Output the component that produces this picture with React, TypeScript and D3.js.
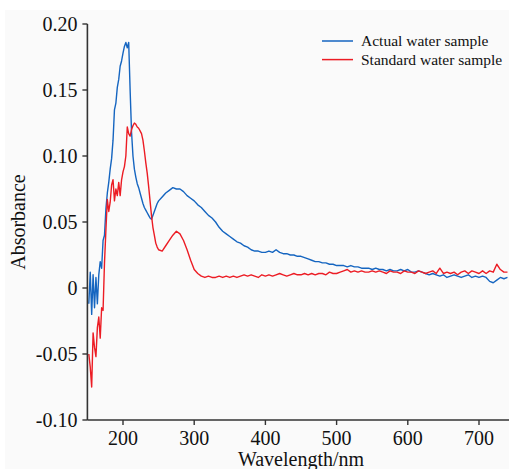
import React from "react";
import * as d3 from "d3";

const wavelengths = [
  152, 154, 156, 158, 160, 162, 164, 166, 168, 170, 172, 174, 176, 178, 180, 182, 184, 186, 188, 190,
  192, 194, 196, 198, 200, 202, 204, 206, 208, 210, 212, 214, 216, 218, 220, 222, 224, 226, 228, 230,
  232, 234, 236, 238, 240, 242, 244, 246, 248, 250,
  255, 260, 265, 270, 275, 280, 285, 290, 295, 300, 305, 310, 315, 320, 325, 330, 335, 340, 345, 350,
  355, 360, 365, 370, 375, 380, 385, 390, 395, 400, 405, 410, 415, 420, 425, 430, 435, 440, 445, 450,
  455, 460, 465, 470, 475, 480, 485, 490, 495, 500, 505, 510, 515, 520, 525, 530, 535, 540, 545, 550,
  555, 560, 565, 570, 575, 580, 585, 590, 595, 600, 605, 610, 615, 620, 625, 630, 635, 640, 645, 650,
  655, 660, 665, 670, 675, 680, 685, 690, 695, 700, 705, 710, 715, 720, 725, 730, 735, 740,
];

const actualWater = [
  -0.012, 0.012, -0.02, 0.01, -0.015, 0.008, -0.012, 0.01, 0.02, 0.015, 0.036, 0.04, 0.06, 0.072, 0.08, 0.09, 0.098, 0.112, 0.135, 0.14,
  0.152, 0.158, 0.168, 0.172, 0.178, 0.183, 0.186, 0.182, 0.186, 0.15, 0.118, 0.1, 0.09, 0.084, 0.079, 0.076, 0.072, 0.068, 0.064, 0.061,
  0.059, 0.057, 0.055, 0.053, 0.052, 0.055, 0.058, 0.061, 0.064, 0.066,
  0.069, 0.072, 0.074, 0.076, 0.075, 0.075, 0.073, 0.07, 0.068, 0.066, 0.063, 0.061, 0.058, 0.055, 0.053, 0.05, 0.046, 0.043, 0.041, 0.039,
  0.037, 0.035, 0.034, 0.032, 0.031, 0.029, 0.028, 0.028, 0.027, 0.027, 0.028, 0.027, 0.029, 0.027, 0.026, 0.026, 0.025, 0.025, 0.024, 0.024,
  0.023, 0.022, 0.021, 0.02, 0.02, 0.019, 0.019, 0.018, 0.018, 0.017, 0.017, 0.017, 0.016, 0.017, 0.016, 0.016, 0.015, 0.015, 0.015, 0.014,
  0.015, 0.014, 0.014, 0.013, 0.014, 0.013, 0.013, 0.014, 0.013, 0.014, 0.012, 0.012, 0.013, 0.012, 0.011, 0.01, 0.011, 0.01, 0.009, 0.01,
  0.008, 0.009, 0.01, 0.009, 0.008, 0.009, 0.01, 0.008, 0.009, 0.008, 0.009, 0.008, 0.005, 0.004, 0.006, 0.008, 0.007, 0.008,
];

const standardWater = [
  -0.05, -0.06, -0.075, -0.034, -0.045, -0.052, -0.03, -0.022, -0.038, -0.015, -0.017, 0.019, 0.044, 0.067, 0.058, 0.065, 0.078, 0.082, 0.066, 0.075,
  0.07, 0.08, 0.07, 0.082, 0.088, 0.092, 0.1, 0.122, 0.117, 0.115, 0.12, 0.123, 0.125, 0.124, 0.122, 0.121, 0.119, 0.117, 0.112, 0.104,
  0.095, 0.087, 0.077, 0.066, 0.055, 0.046, 0.04, 0.034, 0.031, 0.029,
  0.028, 0.032, 0.036, 0.04, 0.043, 0.041, 0.036, 0.029, 0.021, 0.014, 0.011, 0.009, 0.008, 0.009, 0.008, 0.008, 0.009, 0.008, 0.009, 0.008,
  0.009, 0.008, 0.009, 0.01, 0.009, 0.01, 0.009, 0.008, 0.01, 0.009, 0.01, 0.009, 0.01, 0.011, 0.01, 0.009, 0.01, 0.011, 0.01, 0.01,
  0.011, 0.01, 0.011, 0.01, 0.011, 0.011, 0.01, 0.012, 0.011, 0.011, 0.012, 0.013, 0.014, 0.012, 0.013, 0.012, 0.013, 0.012, 0.012, 0.013,
  0.012, 0.013, 0.012, 0.011, 0.013, 0.012, 0.012, 0.011, 0.013, 0.012, 0.012, 0.011, 0.013, 0.012, 0.011, 0.012, 0.013, 0.011, 0.015, 0.011,
  0.012, 0.011, 0.012, 0.01, 0.012, 0.013, 0.011, 0.013, 0.012, 0.011, 0.013, 0.011, 0.013, 0.012, 0.018, 0.014, 0.012, 0.012,
];

const xTicks = [200, 300, 400, 500, 600, 700];
const yTicks = [0.2, 0.15, 0.1, 0.05, 0, -0.05, -0.1];
const yTickLabels = ["0.20", "0.15", "0.10", "0.05", "0", "-0.05", "-0.10"];
const seriesNames = ["Actual water sample", "Standard water sample"];
const seriesColors = ["#1565c0", "#ec1c24"];

const W = 509;
const H = 469;
const FONT = "'Liberation Serif', 'Times New Roman', serif";

export default function App() {
  const x = d3.scaleLinear().domain([150, 742]).range([87.4, 508.9]);
  const y = d3.scaleLinear().domain([-0.1, 0.2]).range([420, 24]);

  const line = d3
    .line<number>()
    .x((_, i) => x(wavelengths[i]))
    .y((d) => y(d));

  const series = [actualWater, standardWater];
  const axisColor = "#333";

  return (
    <svg
      width={W}
      height={H}
      style={{ position: "absolute", left: 0, top: 0, background: "#fff" }}
      fontFamily={FONT}
    >
      <rect x={5} y={10} width={W - 5} height={H - 10} fill="#fafafa" />

      {series.map((s, k) => (
        <path key={k} d={line(s) || ""} fill="none" stroke={seriesColors[k]} strokeWidth={1.4} strokeLinejoin="round" />
      ))}

      {/* Y axis */}
      <line x1={x(150)} x2={x(150)} y1={y(0.2)} y2={y(-0.1)} stroke={axisColor} strokeWidth={1.6} />
      {yTicks.map((t, i) => (
        <g key={t}>
          <line x1={x(150) - 5} x2={x(150)} y1={y(t)} y2={y(t)} stroke={axisColor} strokeWidth={1.4} />
          <text x={x(150) - 10} y={y(t)} dy="0.35em" textAnchor="end" fontSize={20} fill="#111">
            {yTickLabels[i]}
          </text>
        </g>
      ))}

      {/* X axis */}
      <line x1={x(150)} x2={W} y1={y(-0.1)} y2={y(-0.1)} stroke={axisColor} strokeWidth={1.6} />
      {xTicks.map((t) => (
        <g key={t}>
          <line x1={x(t)} x2={x(t)} y1={y(-0.1)} y2={y(-0.1) + 5} stroke={axisColor} strokeWidth={1.4} />
          <text x={x(t)} y={445} textAnchor="middle" fontSize={20} fill="#111">
            {t}
          </text>
        </g>
      ))}

      <text x={301} y={466} textAnchor="middle" fontSize={20} fill="#111">
        Wavelength/nm
      </text>
      <text transform="translate(25,222) rotate(-90)" textAnchor="middle" fontSize={20} fill="#111">
        Absorbance
      </text>

      {/* Legend */}
      {seriesNames.map((n, k) => (
        <g key={n} transform={`translate(0, ${41 + k * 18.6})`}>
          <line x1={322} x2={353} y1={0} y2={0} stroke={seriesColors[k]} strokeWidth={1.5} />
          <text x={361} y={0} dy="0.33em" fontSize={15.5} fill="#111">
            {n}
          </text>
        </g>
      ))}
    </svg>
  );
}
